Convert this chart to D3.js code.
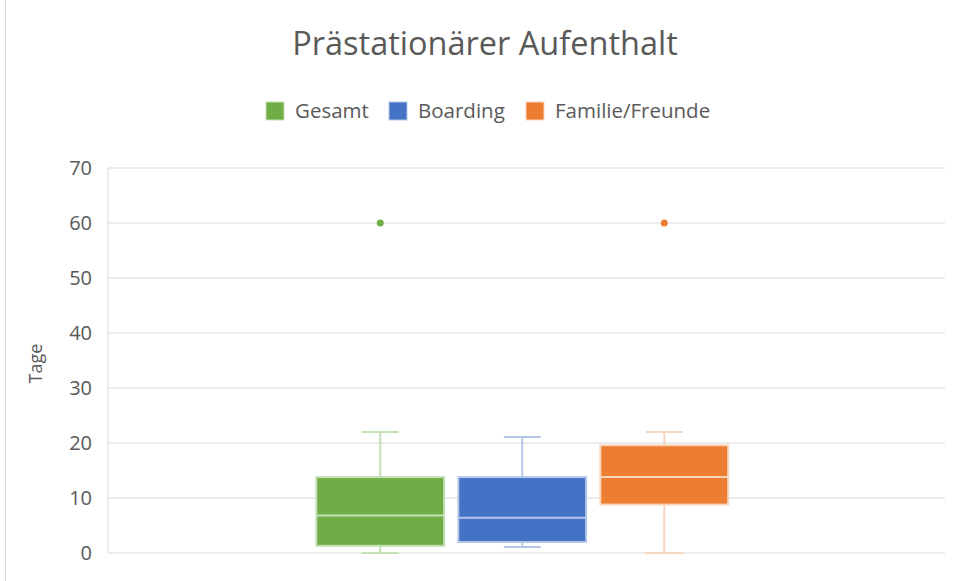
<!DOCTYPE html>
<html>
<head>
<meta charset="utf-8">
<script src="https://cdn.jsdelivr.net/npm/d3@7"></script>
<style>
  body { margin: 0; background: #fff; }
  svg, svg text { font-family: "Open Sans", "Noto Sans", sans-serif; }
</style>
</head>
<body>
<svg id="chart"></svg>
<script>
const series = ["Gesamt", "Boarding", "Familie/Freunde"];
const colors = ["#70ad47", "#4472c4", "#ed7d31"];
const whiskerColors = ["#c5e0b4", "#b4c7e7", "#f9d5bd"];
const minValues = [0, 1.1, 0];
const q1Values = [1.3, 2, 8.8];
const medianValues = [6.8, 6.4, 13.8];
const q3Values = [13.8, 13.8, 19.6];
const maxValues = [22, 21.1, 22];
const outliers = [[60], [], [60]];
const yTicks = [0, 10, 20, 30, 40, 50, 60, 70];

const w = 956;
const h = 581;
const plotLeft = 108, plotRight = 945, plotTop = 168, plotBottom = 553;

const svg = d3.select("#chart").attr("width", w).attr("height", h);

svg.append("rect")
  .attr("x", 5.5).attr("y", -1).attr("width", w - 4).attr("height", h + 2)
  .attr("fill", "none").attr("stroke", "#d9d9d9");

const yScale = d3.scaleLinear().domain([0, 70]).range([plotBottom, plotTop]);
const xScale = d3.scaleBand().domain(series).range([plotLeft, plotRight])
  .paddingInner(0.1).paddingOuter(1.497).align(0.49);

// gridlines
svg.append("g")
  .selectAll("line")
  .data(yTicks)
  .enter()
  .append("line")
  .attr("x1", plotLeft).attr("x2", plotRight)
  .attr("y1", (d) => yScale(d)).attr("y2", (d) => yScale(d))
  .attr("stroke", "#d9d9d9").attr("stroke-width", 1);

svg.append("line")
  .attr("x1", plotLeft).attr("x2", plotLeft)
  .attr("y1", plotTop).attr("y2", plotBottom)
  .attr("stroke", "#d9d9d9");

const yAxis = d3.axisLeft(yScale).tickValues(yTicks).tickSize(0).tickPadding(16);
const yg = svg.append("g")
  .attr("transform", `translate(${plotLeft}, 0)`)
  .call(yAxis);
yg.select(".domain").remove();
yg.attr("font-family", null).attr("font-size", null);
yg.selectAll("text").attr("fill", "#595959").style("font-size", "20px");

svg.append("text")
  .attr("transform", `translate(42, ${(plotTop + plotBottom) / 2 + 3}) rotate(-90)`)
  .attr("text-anchor", "middle")
  .attr("fill", "#595959")
  .style("font-size", "18px")
  .text("Tage");

svg.append("text")
  .attr("x", 485).attr("y", 55)
  .attr("text-anchor", "middle")
  .attr("fill", "#595959")
  .style("font-size", "32.5px")
  .text("Prästationärer Aufenthalt");

// boxes
const capW = 37;
series.forEach((s, i) => {
  const x = xScale(s);
  const bw = xScale.bandwidth();
  const cx = x + bw / 2;
  const g = svg.append("g");

  g.append("line")
    .attr("x1", cx).attr("x2", cx)
    .attr("y1", yScale(maxValues[i])).attr("y2", yScale(q3Values[i]))
    .attr("stroke", whiskerColors[i]).attr("stroke-width", 2);
  g.append("line")
    .attr("x1", cx).attr("x2", cx)
    .attr("y1", yScale(q1Values[i])).attr("y2", yScale(minValues[i]))
    .attr("stroke", whiskerColors[i]).attr("stroke-width", 2);
  [maxValues[i], minValues[i]].forEach((v) => {
    g.append("line")
      .attr("x1", cx - capW / 2).attr("x2", cx + capW / 2)
      .attr("y1", yScale(v)).attr("y2", yScale(v))
      .attr("stroke", whiskerColors[i]).attr("stroke-width", 2);
  });

  g.append("rect")
    .attr("x", x).attr("width", bw)
    .attr("y", yScale(q3Values[i]))
    .attr("height", yScale(q1Values[i]) - yScale(q3Values[i]))
    .attr("fill", colors[i])
    .attr("stroke", whiskerColors[i]).attr("stroke-width", 2);

  g.append("line")
    .attr("x1", x).attr("x2", x + bw)
    .attr("y1", yScale(medianValues[i])).attr("y2", yScale(medianValues[i]))
    .attr("stroke", whiskerColors[i]).attr("stroke-width", 2);

  g.selectAll("circle")
    .data(outliers[i])
    .enter()
    .append("circle")
    .attr("cx", cx).attr("cy", (d) => yScale(d))
    .attr("r", 3.5)
    .attr("fill", colors[i]);
});

// legend
const legendX = [266, 389, 526];
const legend = svg.append("g").attr("transform", "translate(0, 111)");
series.forEach((s, i) => {
  legend.append("rect")
    .attr("x", legendX[i]).attr("y", -9)
    .attr("width", 18).attr("height", 18)
    .attr("fill", colors[i])
    .attr("stroke", whiskerColors[i]).attr("stroke-width", 1);
  legend.append("text")
    .attr("x", legendX[i] + 29).attr("y", 7)
    .attr("fill", "#595959")
    .style("font-size", "20.5px")
    .text(s);
});
</script>
</body>
</html>
